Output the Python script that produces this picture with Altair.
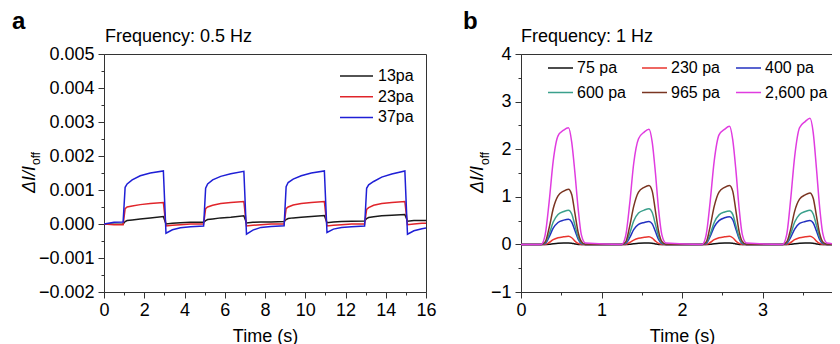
import altair as alt
import pandas as pd

FONT = "Liberation Sans"

# ---------------- Panel a data (Frequency 0.5 Hz) ----------------
time_a = [0.0, 0.5, 0.95, 1.05, 1.15, 1.4, 1.8, 2.3, 2.95, 3.08, 3.4, 3.8, 4.3,
          4.95, 5.05, 5.15, 5.4, 5.8, 6.3, 6.95, 7.08, 7.4, 7.8, 8.3,
          8.95, 9.05, 9.15, 9.4, 9.8, 10.3, 10.95, 11.08, 11.4, 11.8, 12.3,
          12.95, 13.05, 13.15, 13.4, 13.8, 14.3, 14.95, 15.08, 15.4, 15.8, 16.0]

a_13 = [0.0, -0.00001, 0.0, 0.00007, 0.0001, 0.00012, 0.00015, 0.00018, 0.00022, 0.0, 0.00002, 0.00004, 0.00005,
        0.00005, 0.0001, 0.00013, 0.00015, 0.00018, 0.0002, 0.00024, 0.00003, 0.00005, 0.00006, 0.00006,
        0.00007, 0.00013, 0.00016, 0.00018, 0.0002, 0.00022, 0.00025, 0.00004, 0.00006, 0.00007, 0.00008,
        0.00009, 0.00016, 0.00019, 0.00021, 0.00024, 0.00026, 0.00028, 0.00008, 0.0001, 0.0001, 0.0001]

a_23 = [0.0, -0.00002, -0.00002, 0.00045, 0.0005, 0.00053, 0.00057, 0.0006, 0.00063, -0.00006, -0.00004, -0.00002, 0.0,
        0.0, 0.00045, 0.0005, 0.00055, 0.0006, 0.00063, 0.00066, -0.00006, -0.00004, -0.00002, 0.0,
        0.0, 0.00045, 0.0005, 0.00056, 0.0006, 0.00063, 0.00066, -0.00006, -0.00004, -0.00002, 0.0,
        0.0, 0.00043, 0.00048, 0.00055, 0.0006, 0.00063, 0.00066, -0.00002, 0.0, 0.00002, 0.00002]

a_37 = [0.0, 0.00005, 0.00006, 0.00108, 0.00118, 0.0013, 0.00142, 0.0015, 0.00156, -0.00027, -0.00017, -0.00011, -0.00008,
        -0.00006, 0.00105, 0.00118, 0.0013, 0.0014, 0.00148, 0.00155, -0.0003, -0.00018, -0.0001, -0.00007,
        -0.00005, 0.0011, 0.00122, 0.00132, 0.00142, 0.0015, 0.00156, -0.00025, -0.00015, -0.0001, -0.00008,
        -0.00006, 0.00105, 0.00115, 0.00125, 0.00138, 0.00147, 0.00156, -0.0003, -0.0002, -0.00014, -0.00012]

series_a = ["13pa", "23pa", "37pa"]
colors_a = ["#1a1a1a", "#e0242a", "#1f1fd6"]

x_ticks_a = [0, 2, 4, 6, 8, 10, 12, 14, 16]
x_minor_a = [1, 3, 5, 7, 9, 11, 13, 15]
y_ticks_a = [-0.002, -0.001, 0.0, 0.001, 0.002, 0.003, 0.004, 0.005]
y_minor_a = [-0.0015, -0.0005, 0.0005, 0.0015, 0.0025, 0.0035, 0.0045]

# ---------------- Panel b data (Frequency 1 Hz) ----------------
time_b = [0.0,
          0.25, 0.30, 0.35, 0.40, 0.46, 0.53, 0.59, 0.63, 0.67, 0.71, 0.75, 0.80,
          1.25, 1.30, 1.35, 1.40, 1.46, 1.53, 1.59, 1.63, 1.67, 1.71, 1.75, 1.80,
          2.25, 2.30, 2.35, 2.40, 2.46, 2.53, 2.59, 2.63, 2.67, 2.71, 2.75, 2.80,
          3.25, 3.30, 3.35, 3.40, 3.46, 3.53, 3.59, 3.63, 3.67, 3.71, 3.75, 3.80,
          4.0]

b_75 = [0.0,
        0.0, 0.0, 0.005, 0.015, 0.025, 0.03, 0.03, 0.025, 0.01, 0.0, 0.0, 0.0,
        0.0, 0.0, 0.005, 0.015, 0.025, 0.03, 0.03, 0.025, 0.01, 0.0, 0.0, 0.0,
        0.0, 0.0, 0.005, 0.015, 0.025, 0.03, 0.03, 0.025, 0.01, 0.0, 0.0, 0.0,
        0.0, 0.0, 0.005, 0.015, 0.025, 0.03, 0.03, 0.025, 0.01, 0.0, 0.0, 0.0,
        0.0]

b_230 = [0.0,
         0.0, 0.0, 0.04, 0.10, 0.14, 0.16, 0.17, 0.14, 0.07, 0.02, 0.0, 0.0,
         0.0, 0.0, 0.04, 0.09, 0.13, 0.15, 0.16, 0.13, 0.07, 0.02, 0.0, 0.0,
         0.0, 0.0, 0.04, 0.10, 0.14, 0.16, 0.17, 0.14, 0.07, 0.02, 0.0, 0.0,
         0.0, 0.0, 0.04, 0.10, 0.14, 0.16, 0.17, 0.14, 0.07, 0.02, 0.0, 0.0,
         0.0]

b_400 = [0.0,
         0.0, 0.02, 0.16, 0.34, 0.46, 0.51, 0.53, 0.47, 0.29, 0.11, 0.02, 0.0,
         0.0, 0.02, 0.14, 0.31, 0.42, 0.46, 0.48, 0.43, 0.27, 0.10, 0.02, 0.0,
         0.0, 0.02, 0.17, 0.37, 0.50, 0.56, 0.58, 0.52, 0.32, 0.12, 0.02, 0.0,
         0.0, 0.02, 0.15, 0.32, 0.44, 0.48, 0.50, 0.45, 0.28, 0.10, 0.02, 0.0,
         0.0]

b_600 = [0.0,
         0.0, 0.03, 0.22, 0.47, 0.63, 0.69, 0.72, 0.64, 0.40, 0.15, 0.03, 0.0,
         0.0, 0.03, 0.23, 0.49, 0.66, 0.72, 0.75, 0.67, 0.42, 0.16, 0.03, 0.0,
         0.0, 0.03, 0.21, 0.46, 0.62, 0.68, 0.70, 0.63, 0.39, 0.15, 0.03, 0.0,
         0.0, 0.03, 0.22, 0.47, 0.63, 0.69, 0.72, 0.64, 0.40, 0.15, 0.03, 0.0,
         0.0]

b_965 = [0.0,
         0.0, 0.05, 0.35, 0.75, 1.02, 1.12, 1.16, 1.05, 0.65, 0.25, 0.06, 0.0,
         0.0, 0.05, 0.38, 0.80, 1.10, 1.20, 1.24, 1.12, 0.70, 0.27, 0.06, 0.0,
         0.0, 0.05, 0.38, 0.80, 1.10, 1.20, 1.24, 1.12, 0.70, 0.27, 0.06, 0.0,
         0.0, 0.05, 0.32, 0.70, 0.95, 1.04, 1.08, 0.97, 0.60, 0.23, 0.05, 0.0,
         0.0]

b_2600 = [0.0,
          0.0, 0.20, 0.90, 1.75, 2.28, 2.40, 2.45, 2.15, 1.50, 0.75, 0.20, 0.03,
          0.0, 0.18, 0.85, 1.70, 2.22, 2.36, 2.42, 2.15, 1.50, 0.72, 0.20, 0.03,
          0.0, 0.20, 0.90, 1.75, 2.30, 2.42, 2.48, 2.20, 1.55, 0.75, 0.20, 0.03,
          0.0, 0.20, 0.95, 1.85, 2.45, 2.58, 2.65, 2.35, 1.60, 0.78, 0.22, 0.03,
          0.0]

series_b = ["75 pa", "230 pa", "400 pa", "600 pa", "965 pa", "2,600 pa"]
colors_b = ["#111111", "#e8352e", "#2230c0", "#3aa08c", "#7a3522", "#e03ce0"]

x_ticks_b = [0, 1, 2, 3, 4]
x_minor_b = [0.5, 1.5, 2.5, 3.5]
y_ticks_b = [-1, 0, 1, 2, 3, 4]
y_minor_b = [-0.5, 0.5, 1.5, 2.5, 3.5]


def to_long(times, names, cols):
    rows = []
    for name, vals in zip(names, cols):
        for t, v in zip(times, vals):
            rows.append({"time": t, "value": v, "series": name})
    return pd.DataFrame(rows)


df_a = to_long(time_a, series_a, [a_13, a_23, a_37])
df_b = to_long(time_b, series_b, [b_75, b_230, b_400, b_600, b_965, b_2600])

AX = dict(labelFont=FONT, labelFontSize=18, labelColor="black",
          titleFont=FONT, titleFontSize=18, titleFontWeight="normal", titleColor="black",
          domainColor="#333333", tickColor="#333333", grid=False)


def text_layer(s, x, y, size, weight="normal", style="normal", angle=0, align="left"):
    return alt.Chart(pd.DataFrame({"k": [0]})).mark_text(
        text=s, font=FONT, fontSize=size, fontWeight=weight, fontStyle=style,
        angle=angle, align=align, baseline="alphabetic", color="black"
    ).encode(x=alt.value(x), y=alt.value(y))


def panel(df, names, colors, xdom, xticks, xminor, ydom, yticks, yminor, yfmt,
          width, legend, interp, letter, letter_x, freq, freq_x, ytit_x, sub_x):
    xs = alt.Scale(domain=xdom, nice=False, zero=False)
    ys = alt.Scale(domain=ydom, nice=False, zero=False)
    lines = alt.Chart(df).mark_line(strokeWidth=1.5, interpolate=interp, clip=True).encode(
        x=alt.X("time:Q", scale=xs,
                axis=alt.Axis(values=xticks, title="Time (s)", format="d", labelFlush=False,
                              labelOverlap=False, tickSize=6, labelPadding=3, titlePadding=8, **AX)),
        y=alt.Y("value:Q", scale=ys,
                axis=alt.Axis(values=yticks, title=None, format=yfmt, labelOverlap=False,
                              tickSize=6, labelPadding=4, **AX)),
        color=alt.Color("series:N", scale=alt.Scale(domain=names, range=colors), legend=legend),
    )
    minor_x = alt.Chart(pd.DataFrame({"m": xminor})).mark_point(opacity=0).encode(
        x=alt.X("m:Q", scale=xs,
                axis=alt.Axis(values=xminor, labels=False, domain=False, tickSize=3, title=None,
                              orient="bottom", tickColor="#333333", grid=False)),
        y=alt.value(0),
    )
    minor_y = alt.Chart(pd.DataFrame({"m": yminor})).mark_point(opacity=0).encode(
        y=alt.Y("m:Q", scale=ys,
                axis=alt.Axis(values=yminor, labels=False, domain=False, tickSize=3, title=None,
                              orient="left", tickColor="#333333", grid=False)),
        x=alt.value(0),
    )
    texts = [
        text_layer(letter, letter_x, -25, 24, weight="bold"),
        text_layer(freq, freq_x, -12, 18),
        text_layer("\u0394I/I", ytit_x, 112, 18, style="italic", angle=270, align="right"),
        text_layer("off", sub_x, 111, 12, angle=270, align="left"),
    ]
    return alt.layer(lines, minor_x, minor_y, *texts).resolve_axis(
        x="independent", y="independent").properties(width=width, height=238)


legend_a = alt.Legend(title=None, orient="none", legendX=235, legendY=14, symbolType="stroke",
                      symbolSize=1089, symbolStrokeWidth=1.5, labelFont=FONT, labelFontSize=16,
                      labelColor="black", rowPadding=4.7, labelOffset=4, padding=0,
                      clipHeight=16, direction="vertical")
legend_b = alt.Legend(title=None, orient="none", legendX=26, legendY=6, symbolType="stroke",
                      symbolSize=625, symbolStrokeWidth=1.5, labelFont=FONT, labelFontSize=16,
                      labelColor="black", rowPadding=8.5, labelOffset=3, padding=0, columns=3,
                      columnPadding=15, clipHeight=16, direction="horizontal")

pa = panel(df_a, series_a, colors_a, [0, 16], x_ticks_a, x_minor_a, [-0.002, 0.005],
           y_ticks_a, y_minor_a, ".3f", 322, legend_a, "linear",
           "a", -92, "Frequency: 0.5 Hz", 1, -69.3, -64)
pb = panel(df_b, series_b, colors_b, [0, 4], x_ticks_b, x_minor_b, [-1, 4],
           y_ticks_b, y_minor_b, "d", 322, legend_b, "monotone",
           "b", -58, "Frequency: 1 Hz", 0, -38.3, -32)

# Plot area of panel a starts at page (104, 54); the SVG spans page x 8..832, y 8..336
chart = alt.hconcat(pa, pb, spacing=95, bounds="flush").resolve_scale(
    color="independent", x="independent", y="independent"
).resolve_legend(color="independent").properties(
    autosize=alt.AutoSizeParams(type="none"),
    padding={"left": 96, "top": 46, "right": 728, "bottom": 282}
).configure_view(stroke="#333333", strokeWidth=1)

chart.save("out.html", embed_options={"renderer": "svg", "actions": False})
